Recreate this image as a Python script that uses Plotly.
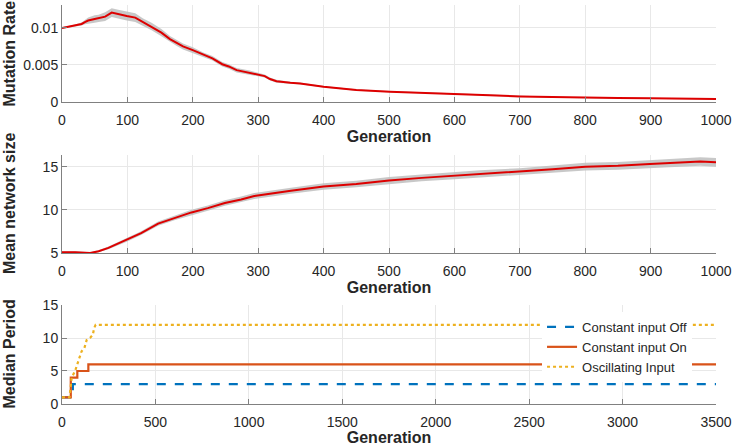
import plotly.graph_objects as go

# ---------------- data ----------------
mut_gen = [0, 10, 20, 30, 35, 40, 50, 56, 66, 76, 86, 99, 112, 124, 137, 152, 165, 175, 185,
           200, 216, 230, 245, 255, 267, 287, 300, 310, 318, 328, 349, 364, 400, 450, 501,
           552, 603, 654, 700, 750, 800, 850, 899, 950, 1000]
mut_rate = [0.0100, 0.01015, 0.0103, 0.01054, 0.0108, 0.0110, 0.0112, 0.0113, 0.01153, 0.01207,
            0.01185, 0.01162, 0.0114, 0.01077, 0.0102, 0.00937, 0.0085, 0.0080, 0.0075,
            0.0070, 0.0064, 0.0059, 0.0051, 0.0048, 0.0043, 0.00396, 0.0037, 0.0035, 0.0031,
            0.0028, 0.0026, 0.0025, 0.00207, 0.00162, 0.0014, 0.00126, 0.00108, 0.0009,
            0.00075, 0.00065, 0.00058, 0.00055, 0.0005, 0.00045, 0.0004]
mut_sd = [0.0001, 0.0001, 0.00015, 0.0002, 0.0003, 0.0004, 0.0005, 0.0005, 0.0006, 0.0006,
          0.0006, 0.0006, 0.0006, 0.0005, 0.0005, 0.0005, 0.0004, 0.0004, 0.0004,
          0.0004, 0.0003, 0.0003, 0.0003, 0.0003, 0.0003, 0.0003, 0.0003, 0.0002, 0.0002,
          0.0002, 0.00015, 0.00012, 0.0001, 0.0001, 0.0001, 0.00008, 0.00008, 0.00007,
          0.00007, 0.00006, 0.00006, 0.00006, 0.00006, 0.00006, 0.00006]

net_gen = [0, 20, 43, 56, 71, 99, 121, 147, 173, 198, 223, 249, 274, 294, 350, 400, 450, 500,
           550, 600, 639, 700, 750, 800, 850, 899, 950, 976, 1000]
net_size = [5.1, 5.1, 5.0, 5.2, 5.6, 6.5, 7.3, 8.4, 9.1, 9.7, 10.2, 10.8, 11.2, 11.6, 12.2, 12.7,
            13.0, 13.4, 13.7, 13.95, 14.15, 14.4, 14.7, 15.0, 15.1, 15.3, 15.5, 15.6, 15.5]
net_sd = [0.1, 0.1, 0.1, 0.12, 0.15, 0.2, 0.22, 0.25, 0.28, 0.3, 0.3, 0.32, 0.33, 0.35, 0.35,
          0.38, 0.38, 0.4, 0.4, 0.42, 0.42, 0.42, 0.45, 0.45, 0.45, 0.48, 0.5, 0.5, 0.5]

off_gen = [0, 58, 3500]
off_period = [1, 3, 3]
on_gen = [0, 47, 82, 141, 3500]
on_period = [1, 4, 5, 6, 6]
osc_gen = [0, 40, 48, 52, 70, 88, 105, 120, 132, 150, 165, 172, 180, 3500]
osc_period = [1, 1, 3, 4, 5, 6.5, 8, 8.5, 9.7, 10, 10.5, 11.5, 12, 12]

# ---------------- figure ----------------
fig = go.Figure()

band_col = "rgba(190,190,190,0.85)"
red = "#dd0000"

# top panel band + mean
fig.add_trace(go.Scatter(x=mut_gen, y=[m + s for m, s in zip(mut_rate, mut_sd)],
                         mode="lines", line=dict(width=0), showlegend=False,
                         hoverinfo="skip", xaxis="x", yaxis="y"))
fig.add_trace(go.Scatter(x=mut_gen, y=[m - s for m, s in zip(mut_rate, mut_sd)],
                         mode="lines", line=dict(width=0), fill="tonexty",
                         fillcolor=band_col, showlegend=False, hoverinfo="skip",
                         xaxis="x", yaxis="y"))
fig.add_trace(go.Scatter(x=mut_gen, y=mut_rate, mode="lines",
                         line=dict(color=red, width=2), showlegend=False,
                         xaxis="x", yaxis="y"))

# middle panel
fig.add_trace(go.Scatter(x=net_gen, y=[m + s for m, s in zip(net_size, net_sd)],
                         mode="lines", line=dict(width=0), showlegend=False,
                         hoverinfo="skip", xaxis="x2", yaxis="y2"))
fig.add_trace(go.Scatter(x=net_gen, y=[m - s for m, s in zip(net_size, net_sd)],
                         mode="lines", line=dict(width=0), fill="tonexty",
                         fillcolor=band_col, showlegend=False, hoverinfo="skip",
                         xaxis="x2", yaxis="y2"))
fig.add_trace(go.Scatter(x=net_gen, y=net_size, mode="lines",
                         line=dict(color=red, width=2), showlegend=False,
                         xaxis="x2", yaxis="y2"))

# bottom panel
fig.add_trace(go.Scatter(x=off_gen, y=off_period, mode="lines", name="Constant input Off",
                         line=dict(color="#0072BD", width=2.2, dash="dash", shape="hv"),
                         xaxis="x3", yaxis="y3"))
fig.add_trace(go.Scatter(x=on_gen, y=on_period, mode="lines", name="Constant input On",
                         line=dict(color="#D95319", width=2.2, shape="hv"),
                         xaxis="x3", yaxis="y3"))
fig.add_trace(go.Scatter(x=osc_gen, y=osc_period, mode="lines", name="Oscillating Input",
                         line=dict(color="#EDB120", width=2.2, dash="dot"),
                         xaxis="x3", yaxis="y3"))

axis_col = "#808080"
grid_col = "#e8e8e8"
tick_font = dict(family="Liberation Sans, Arial, sans-serif", size=14, color="#262626")
title_font = dict(family="Liberation Sans, Arial, sans-serif", size=16, color="#262626")


def xax(domain_anchor, rng, dtick):
    return dict(range=rng, dtick=dtick, anchor=domain_anchor, domain=[0, 1],
                showline=True, linecolor=axis_col, linewidth=1,
                ticks="inside", ticklen=5, tickcolor=axis_col,
                showgrid=True, gridcolor=grid_col, zeroline=False,
                tickfont=tick_font, automargin=False, ticklabelstandoff=5,
                title=dict(text="<b>Generation</b>", font=title_font, standoff=2))


def yax(domain, anchor, rng, tickvals, ticktext):
    return dict(range=rng, domain=domain, anchor=anchor,
                tickvals=tickvals, ticktext=ticktext,
                showline=True, linecolor=axis_col, linewidth=1,
                ticks="inside", ticklen=5, tickcolor=axis_col,
                showgrid=True, gridcolor=grid_col, zeroline=False,
                tickfont=tick_font, automargin=False)


fig.update_layout(
    width=733, height=446,
    margin=dict(l=62, r=17, t=5, b=42, autoexpand=False),
    paper_bgcolor="white", plot_bgcolor="white",
    xaxis=xax("y", [0, 1000], 100),
    yaxis=yax([0.7569, 1.0], "x", [0, 0.0131], [0, 0.005, 0.01], ["0", "0.005", "0.01"]),
    xaxis2=xax("y2", [0, 1000], 100),
    yaxis2=yax([0.3784, 0.6241], "x2", [5, 16.35], [5, 10, 15], ["5", "10", "15"]),
    xaxis3=xax("y3", [0, 3500], 500),
    yaxis3=yax([0.0, 0.2481], "x3", [0, 15], [0, 5, 10, 15], ["0", "5", "10", "15"]),
    legend=dict(x=0.734, y=0.2306, xanchor="left", yanchor="top",
                bgcolor="white", borderwidth=0, traceorder="normal",
                font=dict(family="Liberation Sans, Arial, sans-serif", size=13, color="#262626"),
                tracegroupgap=0, itemwidth=30),
    showlegend=True,
)

for txt, yc in [("Mutation Rate", (0.7569 + 1.0) / 2),
                ("Mean network size", (0.3784 + 0.6241) / 2),
                ("Median Period", 0.2481 / 2)]:
    fig.add_annotation(text="<b>" + txt + "</b>", x=-0.081, y=yc, xref="paper", yref="paper",
                       textangle=-90, showarrow=False, xanchor="center", yanchor="middle",
                       font=title_font)

fig.write_html("out.html", config={"displayModeBar": False},
               post_script="document.body.style.margin='0';document.body.style.overflow='hidden';")
